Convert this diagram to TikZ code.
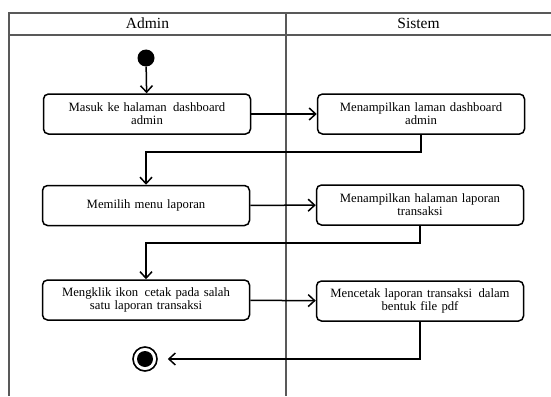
\documentclass[tikz,border=0pt]{standalone}
\usepackage{fontspec}
\setmainfont{Liberation Serif}
\usetikzlibrary{arrows.meta}
\begin{document}
\begin{tikzpicture}[x=1pt,y=-1pt,
  lane/.style={draw=black!65,line width=1.1pt},
  act/.style={draw=black,line width=1.5pt,rounded corners=5pt,minimum width=207pt,minimum height=40pt,
    text width=190pt,align=center,inner sep=0pt,font=\fontsize{12.7}{14}\selectfont},
  flow/.style={draw=black,line width=1.5pt,-{Straight Barb[length=6.5pt,width=12pt,line width=1.5pt]}},
  head/.style={font=\fontsize{15.5}{17}\selectfont}]
\useasboundingbox (0,0) rectangle (551,396);
% swimlane frame
\draw[lane] (551,13) -- (9,13) -- (9,396);
\draw[lane] (9,35) -- (551,35);
\draw[lane] (286,13) -- (286,396);
\node[head] (hA) at (147.5,23.5) {Admin};
\node[head] (hS) at (418.5,23.5) {Sistem};
% start and end
\node[circle,fill=black,minimum size=17pt,inner sep=0pt] (start) at (146,58) {};
\node[circle,draw=black,line width=1.6pt,minimum size=24pt,inner sep=0pt] (end) at (145,359) {};
\fill[black] (end.center) circle (8pt);
% activities
\node[act] (a1) at (147,114) {Masuk ke halaman\, dashboard\\[-1pt]admin};
\node[act] (s1) at (421,114) {Menampilkan laman dashboard\\[-1pt]admin};
\node[act] (a2) at (146,205.5) {Memilih menu laporan};
\node[act] (s2) at (420,205) {Menampilkan halaman laporan\\[-1pt]transaksi};
\node[act] (a3) at (146,300) {Mengklik ikon\, cetak pada salah\\[-1pt]satu laporan transaksi};
\node[act] (s3) at (420,301) {Mencetak laporan transaksi\, dalam\\[-1pt]bentuk file pdf};
% bends
\coordinate (k1) at (146,152);
\coordinate (k2) at (146,243);
\coordinate (k3) at (420,359);
% flows
\draw[flow] (start) -- (a1);
\draw[flow] (a1) -- (s1);
\draw[flow] (s1.south) |- (k1) -- (a2.north);
\draw[flow] (a2) -- (s2);
\draw[flow] (s2.south) |- (k2) -- (a3.north);
\draw[flow] (a3) -- (s3);
\draw[flow] (s3.south) -- (k3) -- ([xshift=10pt]end.east);
\end{tikzpicture}
\end{document}
